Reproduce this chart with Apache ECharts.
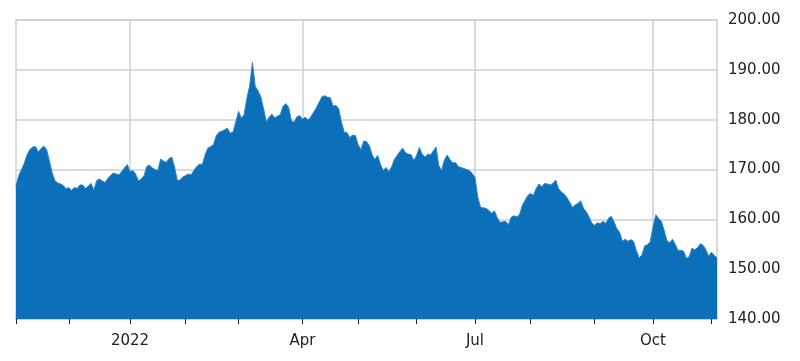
<!DOCTYPE html>
<html>
<head>
<meta charset="utf-8">
<script src="https://cdn.jsdelivr.net/npm/echarts@6/dist/echarts.min.js"></script>
<style>html,body{margin:0;padding:0;background:#fff}#c{width:800px;height:361px}</style>
</head>
<body>
<div id="c"></div>
<script>
// Trading-day calendar (category axis)
const firstDay = '2021-11-03';
const lastDay = '2022-11-03';
const holidays = ['2021-11-25','2021-12-24','2022-01-17','2022-02-21','2022-04-15','2022-05-30','2022-06-20','2022-07-04','2022-09-05'];
// Tick labels
const labelDates = ['2022-01-03','2022-04-01','2022-07-01','2022-10-03'];
const labelTexts = ['2022','Apr','Jul','Oct'];
// y axis
const yMin = 140, yMax = 200, yStep = 10;
// closing values, one per trading day
const prices = [
166.8,168.8,170.0,171.3,173.0,174.0,174.5,174.6,173.5,174.2,
174.7,174.0,171.8,169.3,167.8,167.3,167.1,166.8,166.1,166.4,
165.8,166.4,166.2,166.9,166.9,166.2,166.7,167.2,165.9,167.8,
168.1,167.7,167.4,168.2,168.8,169.3,169.1,168.9,169.6,170.3,
171.0,169.6,169.8,169.1,167.7,168.1,168.7,170.6,170.9,170.3,
170.0,169.8,172.1,171.7,171.4,172.2,172.5,170.5,167.8,167.9,
168.5,168.8,169.1,168.9,169.9,170.6,171.1,171.0,173.0,174.3,
174.6,175.0,176.8,177.5,177.7,178.0,178.3,177.3,177.5,179.5,
181.7,180.3,181.0,184.3,186.8,191.5,186.7,185.8,184.6,182.2,
179.6,180.5,181.1,180.4,180.7,181.0,182.7,183.2,182.5,179.8,
179.5,180.6,180.8,180.1,180.5,179.9,180.6,181.5,182.4,183.5,
184.6,184.8,184.5,184.4,182.7,182.9,182.2,179.5,177.5,177.4,
176.4,176.9,176.8,175.0,174.0,175.7,175.6,174.8,173.0,172.0,
172.8,171.1,169.8,170.4,169.6,170.5,172.0,172.8,173.6,174.3,
173.4,173.1,173.0,171.8,172.8,174.4,173.1,172.5,173.1,172.9,
173.7,174.5,170.8,169.8,171.9,172.9,172.0,171.3,171.4,170.6,
170.4,170.2,170.0,169.8,169.2,168.4,164.5,162.4,162.3,162.2,
161.8,161.2,161.7,160.3,159.4,159.5,159.6,158.9,160.4,160.7,
160.5,160.9,162.8,163.8,164.8,165.2,164.8,166.2,167.1,166.5,
167.2,167.1,166.9,167.2,167.9,166.2,165.5,165.1,164.4,163.5,
162.4,162.9,163.2,163.7,162.2,161.5,160.5,159.2,158.8,159.3,
159.1,159.6,159.2,160.2,160.6,159.5,158.1,157.4,155.6,156.0,
155.6,155.9,155.6,153.7,152.3,152.8,154.7,154.9,155.5,158.5,
160.9,160.2,159.6,157.8,155.7,155.3,156.0,155.0,153.7,153.8,
153.6,152.2,152.5,154.2,153.9,154.3,155.1,154.8,153.9,152.6,
153.4,152.8,152.2
];

const dates = [];
(function(){
  const d = new Date(firstDay + 'T00:00:00Z');
  const end = new Date(lastDay + 'T00:00:00Z');
  while (d <= end) {
    const s = d.toISOString().slice(0,10);
    const wd = d.getUTCDay();
    if (wd !== 0 && wd !== 6 && holidays.indexOf(s) < 0) dates.push(s);
    d.setUTCDate(d.getUTCDate() + 1);
  }
})();
const isMonthStart = (i) => i === 0 || dates[i].slice(0,7) !== dates[i-1].slice(0,7);
const labelOf = (v) => { const k = labelDates.indexOf(v); return k >= 0 ? labelTexts[k] : ''; };

const chart = echarts.init(document.getElementById('c'), null, {renderer:'canvas'});
chart.setOption({
  animation: false,
  grid: {left: 16, right: 83, top: 20, bottom: 42, show: true, borderColor: '#cfcfcf', borderWidth: 1.5, backgroundColor: 'transparent'},
  xAxis: {
    type: 'category',
    data: dates,
    boundaryGap: false,
    axisLine: {show: true, lineStyle: {color: '#cccccc', width: 2}},
    axisTick: {show: true, length: 5, interval: (i) => isMonthStart(i), lineStyle: {color: '#222', width: 1}},
    axisLabel: {
      interval: (i, v) => labelDates.indexOf(v) >= 0,
      formatter: (v) => labelOf(v),
      color: '#222', fontFamily: 'DejaVu Sans', fontSize: 15, margin: 15
    },
    splitLine: {show: true, interval: (i, v) => labelDates.indexOf(v) >= 0, lineStyle: {color: '#cfcfcf', width: 1.5}}
  },
  yAxis: {
    type: 'value', position: 'right', min: yMin, max: yMax, interval: yStep,
    axisLine: {show: false}, axisTick: {show: false},
    axisLabel: {formatter: (v) => v.toFixed(2), color: '#222', fontFamily: 'DejaVu Sans', fontSize: 15, margin: 11},
    splitLine: {show: true, lineStyle: {color: '#cfcfcf', width: 1.5}}
  },
  series: [{
    type: 'line', data: prices, symbol: 'none', smooth: false,
    lineStyle: {color: '#2f86c9', width: 1},
    areaStyle: {color: '#0c6fba', opacity: 1, origin: 'start'}
  }]
});
</script>
</body>
</html>
